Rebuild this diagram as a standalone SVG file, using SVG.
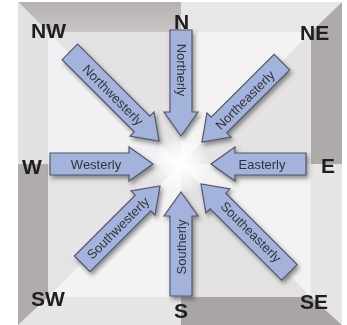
<svg xmlns="http://www.w3.org/2000/svg" width="347" height="325" viewBox="0 0 347 325">
<style>
.lbl{font-family:"Liberation Sans",Arial,sans-serif;font-weight:bold;font-size:21px;fill:#1e1e1e}
.at{font-family:"Liberation Sans",Arial,sans-serif;font-size:13px;fill:#33333f;text-anchor:middle}
.arr{fill:#a3b3dc;stroke:#55566a;stroke-width:1.2;stroke-linejoin:miter}
</style>
<defs>
<filter id="sh" x="-30%" y="-30%" width="160%" height="160%">
<feDropShadow dx="2" dy="3" stdDeviation="2.2" flood-color="#3a3a3a" flood-opacity="0.55"/>
</filter>
<linearGradient id="topg" x1="0" y1="0" x2="0" y2="1">
<stop offset="0" stop-color="#b6b2b2"/><stop offset="1" stop-color="#c8c4c4"/>
</linearGradient>
<radialGradient id="glow" cx="0.5" cy="0.5" r="0.5">
<stop offset="0" stop-color="#ffffff" stop-opacity="1"/><stop offset="0.6" stop-color="#ffffff" stop-opacity="0.6"/><stop offset="1" stop-color="#ffffff" stop-opacity="0"/>
</radialGradient>
</defs>
<rect width="347" height="325" fill="#ffffff"/>
<g id="frame">
<polygon points="18,2 181,2 181,32 48,32" fill="url(#topg)"/>
<polygon points="181,2 342,2 311,32 181,32" fill="#e8e6e6"/>
<polygon points="342,2 342,164 311,164 311,32" fill="#aeaaaa"/>
<polygon points="342,164 342,325 311,297 311,164" fill="#e6e4e4"/>
<polygon points="342,325 181,325 181,297 311,297" fill="#a9a5a5"/>
<polygon points="181,325 18,325 48,297 181,297" fill="#e6e4e4"/>
<polygon points="18,325 18,164 48,164 48,297" fill="#b0acac"/>
<polygon points="18,164 18,2 48,32 48,164" fill="#e2e0e0"/>
<polygon points="181,164 181,32 311,32" fill="#f3f3f4"/>
<polygon points="181,164 311,32 311,164" fill="#e4e2e2"/>
<polygon points="181,164 311,164 311,297" fill="#f2f2f3"/>
<polygon points="181,164 311,297 181,297" fill="#e3e1e1"/>
<polygon points="181,164 181,297 48,297" fill="#f3f3f4"/>
<polygon points="181,164 48,297 48,164" fill="#e5e3e3"/>
<polygon points="181,164 48,164 48,32" fill="#f1f1f3"/>
<polygon points="181,164 48,32 181,32" fill="#e3e1e1"/>
<circle cx="181" cy="164" r="30" fill="url(#glow)"/>
</g>
<g id="connectors" filter="url(#sh)">
<g id="northerly" transform="translate(181,136) rotate(90)"><path class="arr" d="M-106,-11 H-24 V-17 L0,0 L-24,17 V11 H-106 Z"/></g>
<g id="southerly" transform="translate(181,192) rotate(-90)"><path class="arr" d="M-104,-11 H-24 V-17 L0,0 L-24,17 V11 H-104 Z"/></g>
<g id="westerly" transform="translate(153,164) rotate(0)"><path class="arr" d="M-103,-11 H-24 V-17 L0,0 L-24,17 V11 H-103 Z"/></g>
<g id="easterly" transform="translate(211,164) rotate(180)"><path class="arr" d="M-95,-11 H-24 V-17 L0,0 L-24,17 V11 H-95 Z"/></g>
<g id="northwesterly" transform="translate(159,141) rotate(45)"><path class="arr" d="M-126,-11 H-24 V-17 L0,0 L-24,17 V11 H-126 Z"/></g>
<g id="northeasterly" transform="translate(202,142) rotate(135)"><path class="arr" d="M-113,-11 H-24 V-17 L0,0 L-24,17 V11 H-113 Z"/></g>
<g id="southwesterly" transform="translate(160,186) rotate(-45)"><path class="arr" d="M-110,-11 H-24 V-17 L0,0 L-24,17 V11 H-110 Z"/></g>
<g id="southeasterly" transform="translate(201,184) rotate(-135)"><path class="arr" d="M-125,-11 H-24 V-17 L0,0 L-24,17 V11 H-125 Z"/></g>
</g>
<g id="arrow-labels">
<text class="at" transform="translate(181,70) rotate(90)" dy="4.5">Northerly</text>
<text class="at" transform="translate(181,247) rotate(-90)" dy="4.5">Southerly</text>
<text class="at" transform="translate(96,164)" dy="4.5">Westerly</text>
<text class="at" transform="translate(262,164)" dy="4.5">Easterly</text>
<text class="at" transform="translate(113,95) rotate(45)" dy="4.5">Northwesterly</text>
<text class="at" transform="translate(245,100) rotate(-45)" dy="4.5">Northeasterly</text>
<text class="at" transform="translate(118,228) rotate(-45)" dy="4.5">Southwesterly</text>
<text class="at" transform="translate(251,232) rotate(45)" dy="4.5">Southeasterly</text>
</g>
<g id="label-NW"><text class="lbl" x="31" y="38">NW</text></g>
<g id="label-N"><text class="lbl" x="174" y="29">N</text></g>
<g id="label-NE"><text class="lbl" x="300" y="40">NE</text></g>
<g id="label-W"><text class="lbl" x="22" y="174">W</text></g>
<g id="label-E"><text class="lbl" x="321" y="173">E</text></g>
<g id="label-SW"><text class="lbl" x="31" y="306">SW</text></g>
<g id="label-S"><text class="lbl" x="174" y="318">S</text></g>
<g id="label-SE"><text class="lbl" x="300" y="309">SE</text></g>
</svg>
